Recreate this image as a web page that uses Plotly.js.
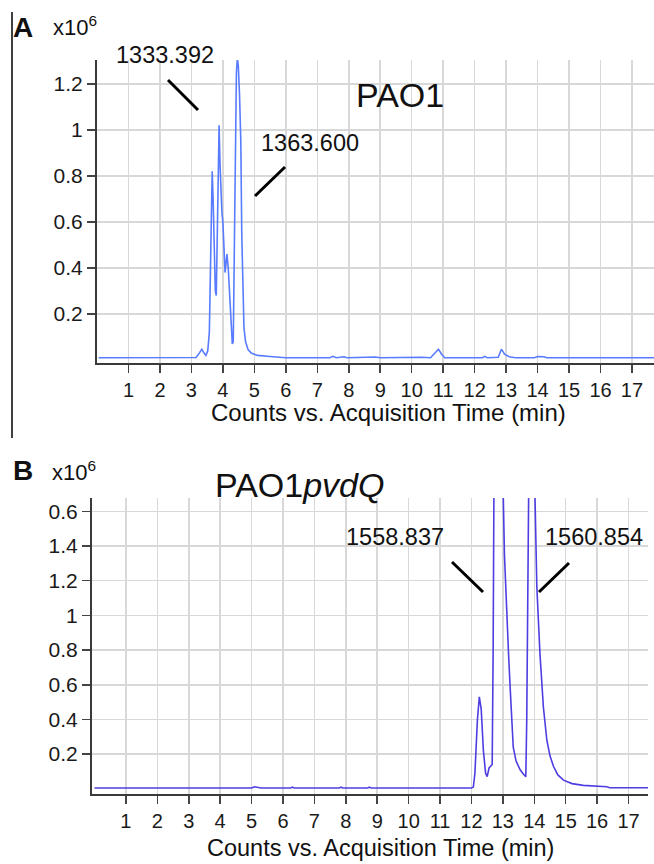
<!DOCTYPE html>
<html>
<head>
<meta charset="utf-8">
<script src="https://cdn.plot.ly/plotly-3.0.1.min.js"></script>
<style>html,body{margin:0;padding:0;background:#fff;}#chart{width:654px;height:864px;}</style>
</head>
<body>
<div id="chart"></div>
<script>
// ---- Data (counts x10^6 vs acquisition time in min) ----
// Panel A: PAO1
const timeA = [0.05, 1.0, 2.0, 3.0, 3.15, 3.25, 3.33, 3.40, 3.46, 3.52, 3.57, 3.60, 3.63, 3.66, 3.69, 3.72, 3.76, 3.79, 3.82, 3.85, 3.88, 3.91, 3.94, 3.97, 4.00, 4.04, 4.07, 4.10, 4.13, 4.17, 4.22, 4.26, 4.30, 4.33, 4.36, 4.39, 4.43, 4.46, 4.49, 4.53, 4.57, 4.60, 4.63, 4.67, 4.72, 4.80, 4.90, 5.1, 5.5, 5.8, 6.0, 7.4, 7.5, 7.6, 7.85, 7.95, 8.85, 9.0, 9.9, 10.1, 10.3, 10.6, 10.75, 10.85, 10.95, 11.05, 12.25, 12.32, 12.4, 12.75, 12.85, 12.95, 13.1, 13.3, 13.9, 14.0, 14.2, 14.3, 17.7];
const countsA = [0.010, 0.010, 0.010, 0.010, 0.011, 0.030, 0.047, 0.030, 0.020, 0.040, 0.12, 0.35, 0.60, 0.82, 0.70, 0.50, 0.30, 0.28, 0.55, 0.85, 1.02, 0.85, 0.68, 0.64, 0.60, 0.50, 0.38, 0.42, 0.46, 0.40, 0.26, 0.15, 0.07, 0.08, 0.45, 0.95, 1.25, 1.31, 1.28, 1.15, 0.95, 0.55, 0.30, 0.14, 0.08, 0.045, 0.030, 0.020, 0.015, 0.012, 0.010, 0.010, 0.016, 0.010, 0.014, 0.010, 0.013, 0.010, 0.013, 0.013, 0.012, 0.010, 0.030, 0.047, 0.025, 0.010, 0.010, 0.016, 0.010, 0.012, 0.047, 0.025, 0.014, 0.010, 0.010, 0.015, 0.014, 0.010, 0.010];

// Panel B: PAO1pvdQ
const timeB = [0.0, 5.0, 5.1, 5.2, 5.3, 6.25, 6.3, 6.35, 7.8, 7.85, 7.9, 8.7, 8.75, 8.8, 12.0, 12.06, 12.11, 12.19, 12.25, 12.31, 12.38, 12.45, 12.50, 12.56, 12.61, 12.66, 12.69, 12.72, 12.86, 13.00, 13.05, 13.12, 13.18, 13.23, 13.28, 13.33, 13.42, 13.55, 13.65, 13.73, 13.76, 13.79, 13.83, 13.92, 14.02, 14.08, 14.18, 14.29, 14.40, 14.50, 14.61, 14.75, 14.93, 15.2, 15.56, 16.0, 16.31, 16.4, 17.7];
const countsB = [0.005, 0.005, 0.012, 0.010, 0.005, 0.005, 0.010, 0.005, 0.005, 0.010, 0.005, 0.005, 0.010, 0.005, 0.005, 0.010, 0.09, 0.40, 0.53, 0.46, 0.22, 0.09, 0.07, 0.12, 0.13, 0.14, 0.80, 1.90, 2.60, 1.80, 1.35, 1.01, 0.78, 0.59, 0.40, 0.24, 0.16, 0.11, 0.085, 0.07, 0.40, 1.10, 1.90, 2.60, 1.65, 1.17, 0.78, 0.47, 0.28, 0.19, 0.13, 0.08, 0.05, 0.03, 0.02, 0.015, 0.012, 0.006, 0.006];

// Tick labels
const xTicks = [1, 2, 3, 4, 5, 6, 7, 8, 9, 10, 11, 12, 13, 14, 15, 16, 17];
const yTicksA = [0.2, 0.4, 0.6, 0.8, 1.0, 1.2];
const yTextA = ['0.2', '0.4', '0.6', '0.8', '1', '1.2'];
const yTicksB = [0.2, 0.4, 0.6, 0.8, 1.0, 1.2, 1.4, 1.6];
const yTextB = ['0.2', '0.4', '0.6', '0.8', '1', '1.2', '1.4', '0.6'];

// ---- Layout helpers (pixel -> paper) ----
const W = 654, H = 864;
const px = X => X / W;
const py = Y => 1 - Y / H;
const FONT = 'Liberation Sans, Arial, sans-serif';

const traces = [
  {x: timeA, y: countsA, xaxis: 'x', yaxis: 'y', type: 'scatter', mode: 'lines',
   line: {color: 'rgb(88,124,255)', width: 1.6}},
  {x: timeB, y: countsB, xaxis: 'x2', yaxis: 'y2', type: 'scatter', mode: 'lines',
   line: {color: 'rgb(78,62,226)', width: 1.6}}
];

const axisCommon = {
  showline: true, linecolor: '#3a3a3a', linewidth: 2, mirror: false,
  showgrid: true, gridcolor: '#d8d8d8', gridwidth: 1.5, zeroline: false,
  ticks: 'outside', ticklen: 8, tickwidth: 1.5, tickcolor: '#444',
  tickfont: {family: FONT, size: 20, color: '#1a1a1a'}, fixedrange: true
};
const yFont = {family: FONT, size: 21, color: '#1a1a1a'};

const layout = {
  width: W, height: H,
  margin: {l: 0, r: 0, t: 0, b: 0},
  paper_bgcolor: '#fff', plot_bgcolor: '#fff',
  showlegend: false, hovermode: false,
  xaxis: Object.assign({}, axisCommon, {domain: [px(97), 1], range: [0, 17.7], tickvals: xTicks, anchor: 'y'}),
  yaxis: Object.assign({}, axisCommon, {domain: [py(363), py(60)], range: [-0.013, 1.304], tickvals: yTicksA, ticktext: yTextA, anchor: 'x', tickfont: yFont}),
  xaxis2: Object.assign({}, axisCommon, {domain: [px(92), px(648)], range: [-0.08, 17.62], tickvals: xTicks, anchor: 'y2'}),
  yaxis2: Object.assign({}, axisCommon, {domain: [py(794), py(498)], range: [-0.03, 1.677], tickvals: yTicksB, ticktext: yTextB, anchor: 'x2', tickfont: yFont}),
  annotations: [],
  shapes: []
};

function txt(text, X, Y, size, opts) {
  layout.annotations.push(Object.assign({
    text: text, xref: 'paper', yref: 'paper', x: px(X), y: py(Y),
    xanchor: 'center', yanchor: 'middle', showarrow: false,
    font: {family: FONT, size: size, color: '#111'}
  }, opts || {}));
}
function seg(X0, Y0, X1, Y1, w) {
  layout.shapes.push({type: 'line', xref: 'paper', yref: 'paper',
    x0: px(X0), y0: py(Y0), x1: px(X1), y1: py(Y1),
    line: {color: '#000', width: w}});
}

// Panel A labels
txt('<b>A</b>', 23, 27, 28);
txt('x10<sup>6</sup>', 51, 26, 22, {xanchor: 'left'});
txt('1333.392', 165, 55, 23.5);
txt('1363.600', 310, 143, 23.5);
txt('PAO1', 400, 95, 34);
txt('Counts vs. Acquisition Time (min)', 388, 412, 24);
seg(168, 80, 198, 110, 3);
seg(285, 167, 255, 196, 3);
seg(12, 12, 12, 438, 1.5);

// Panel B labels
txt('<b>B</b>', 23, 471, 28);
txt('x10<sup>6</sup>', 50, 471, 22, {xanchor: 'left'});
txt('PAO1<i>pvdQ</i>', 299, 485, 34);
txt('1558.837', 395, 537, 23.5);
txt('1560.854', 594, 537, 23.5);
txt('Counts vs. Acquisition Time (min)', 380, 864, 23.5, {yanchor: 'bottom', y: 0, yshift: 1});
seg(452, 562, 483, 592, 3);
seg(569, 563, 539, 592, 3);

Plotly.newPlot('chart', traces, layout, {staticPlot: true, displayModeBar: false});
</script>
</body>
</html>
